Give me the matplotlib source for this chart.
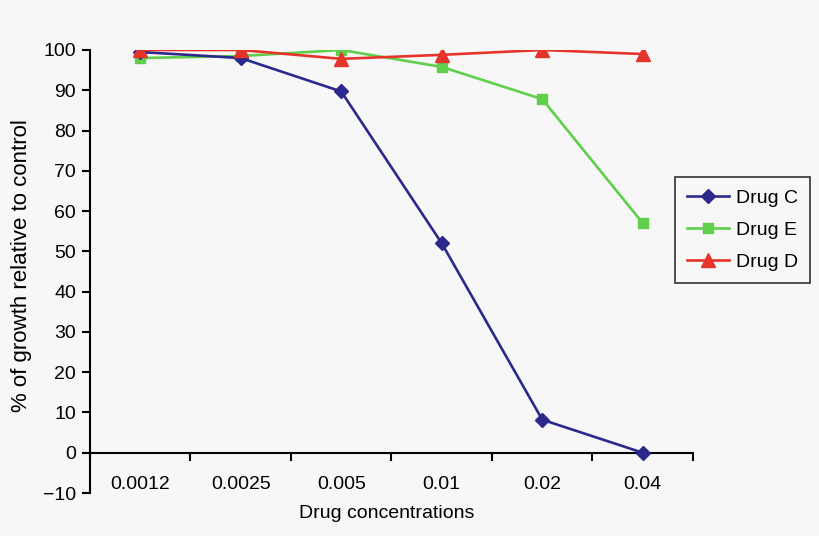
import matplotlib
matplotlib.use("Agg")
import matplotlib.pyplot as plt
from matplotlib.ticker import FixedLocator, NullFormatter

categories = ["0.0012", "0.0025", "0.005", "0.01", "0.02", "0.04"]
drug_c = [99.5, 98, 89.7, 52, 8.2, 0]
drug_e = [98, 98.5, 100, 95.8, 87.8, 57]
drug_d = [100, 100, 97.8, 98.8, 100, 99]
yticks = [-10, 0, 10, 20, 30, 40, 50, 60, 70, 80, 90, 100]

plt.rcParams['font.family'] = ['Liberation Sans', 'DejaVu Sans']
bg = '#f7f7f7'
fs = 14

fig = plt.figure(figsize=(8.2, 5.36), dpi=100, facecolor=bg)
ax = fig.add_axes([90/820, 1-493/536, (693-90)/820, (493-50)/536])
ax.set_facecolor(bg)

x = list(range(len(categories)))
ax.plot(x, drug_c, color='#2b2a8c', marker='D', markersize=7.5, lw=1.9, label='Drug C', zorder=3)
ax.plot(x, drug_e, color='#5fcf4c', marker='s', markersize=7.5, lw=1.9, label='Drug E', zorder=2)
ax.plot(x, drug_d, color='#e5352b', marker='^', markersize=9.5, lw=1.9, label='Drug D', zorder=4)

ax.set_xlim(-0.5, len(categories) - 0.5)
ax.set_ylim(-10, 100)

for s in ['top', 'right']:
    ax.spines[s].set_visible(False)
ax.spines['bottom'].set_position(('data', 0))
ax.spines['left'].set_linewidth(1.5)
ax.spines['bottom'].set_linewidth(1.5)

ax.set_yticks(yticks)
ax.set_yticklabels(['\u221210' if v < 0 else str(v) for v in yticks])
ax.tick_params(axis='y', direction='out', length=6, width=1.5, labelsize=fs, pad=4)

ax.set_xticks(x)
ax.set_xticklabels(categories, fontsize=fs)
ax.xaxis.set_minor_locator(FixedLocator([i + 0.5 for i in range(-1, len(categories))]))
ax.xaxis.set_minor_formatter(NullFormatter())
ax.tick_params(axis='x', which='major', length=0, pad=17)
ax.tick_params(axis='x', which='minor', direction='out', length=6, width=1.5)

ax.set_ylabel('% of growth relative to control', fontsize=16)
ax.yaxis.set_label_coords((22 - 90) / 603, 1 - (266 - 50) / (493 - 50))
ax.yaxis.label.set_va('center')
fig.text(387 / 820, 1 - 513 / 536, 'Drug concentrations', ha='center', va='center', fontsize=fs)

leg = ax.legend(loc='center left', bbox_to_anchor=(675/820, 1-230/536), bbox_transform=fig.transFigure,
                fontsize=fs, frameon=True, fancybox=False, edgecolor='black', facecolor=bg,
                handlelength=2.2, borderpad=0.6, labelspacing=0.75, handletextpad=0.35, borderaxespad=0)
leg.get_frame().set_linewidth(1.2)

fig.savefig('out.png', dpi=100, facecolor=bg)
